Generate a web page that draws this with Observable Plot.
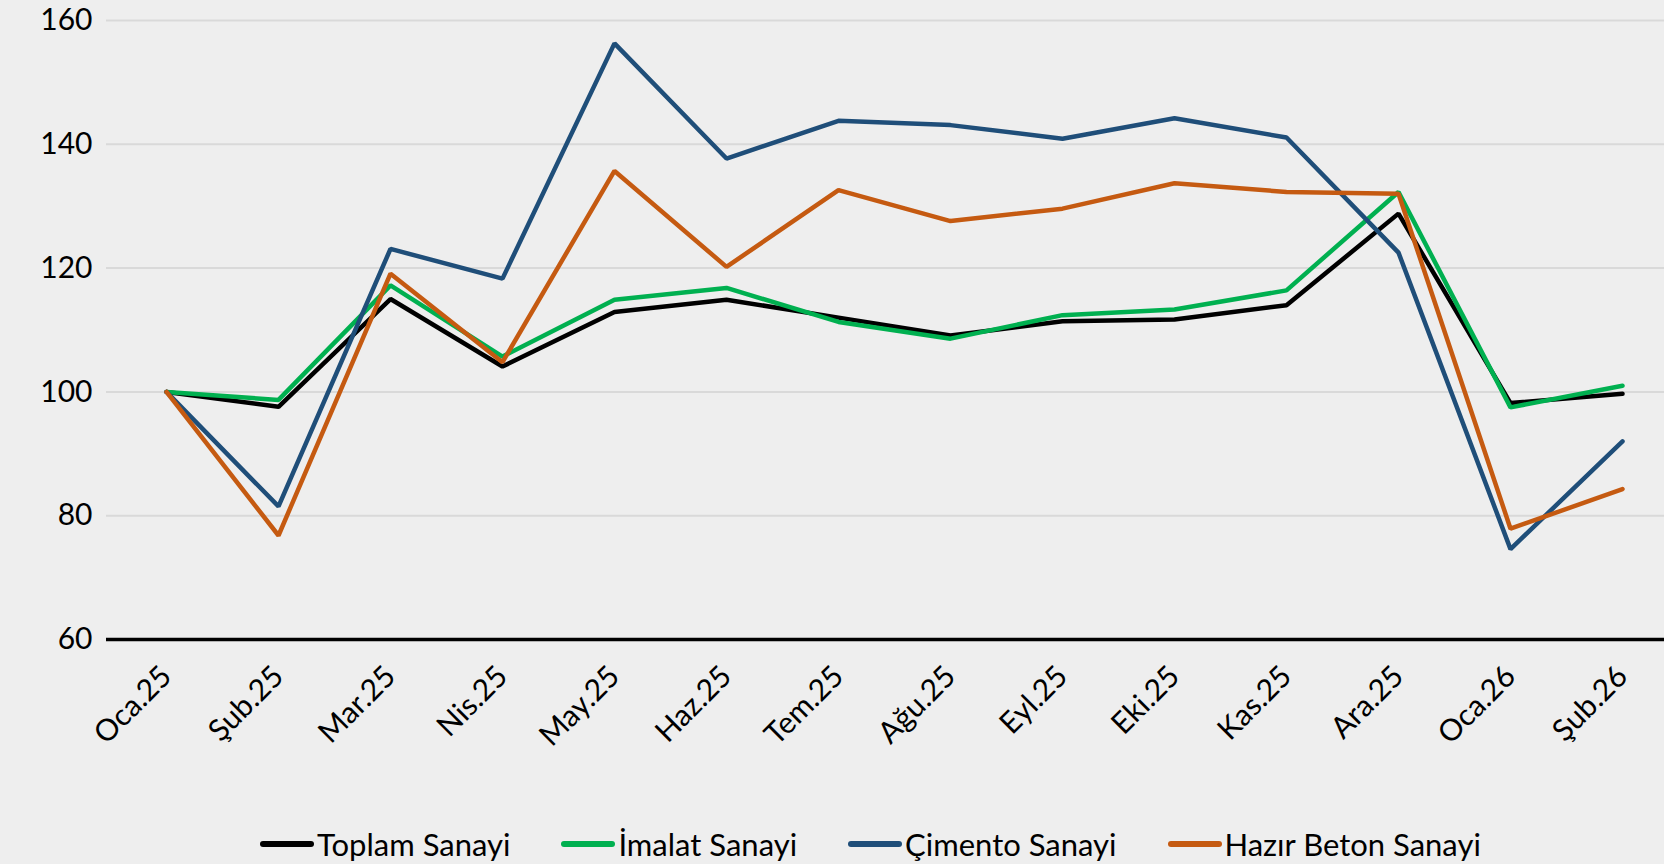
<!DOCTYPE html>
<html>
<head>
<meta charset="utf-8">
<script src="https://cdn.jsdelivr.net/npm/d3@7"></script>
<script src="https://cdn.jsdelivr.net/npm/@observablehq/plot@0.6"></script>
<style>
  html, body { margin: 0; padding: 0; background: #eeeeee; }
  body { width: 1664px; height: 864px; position: relative; overflow: hidden; font-family: Lato, "Open Sans", sans-serif; }
  #legend { position: absolute; top: 824px; left: 0; width: 1664px; box-sizing: border-box; padding-left: 260px;
            display: flex; justify-content: flex-start; gap: 51px; font-size: 31px; line-height: 40px; color: #000; }
  .item { display: flex; align-items: center; white-space: nowrap; }
  .swatch { display: inline-block; width: 54px; height: 6px; border-radius: 3px; margin-right: 3px; }
</style>
</head>
<body>
<div id="chart"></div>
<div id="legend"></div>
<script>
const months = ["Oca.25","Şub.25","Mar.25","Nis.25","May.25","Haz.25","Tem.25","Ağu.25","Eyl.25","Eki.25","Kas.25","Ara.25","Oca.26","Şub.26"];
const toplamSanayi  = [100, 97.6, 115.0, 104.1, 112.9, 114.9, 112.0, 109.1, 111.4, 111.7, 114.0, 128.8, 98.2, 99.7];
const imalatSanayi  = [100, 98.7, 117.2, 105.7, 114.9, 116.8, 111.3, 108.6, 112.4, 113.3, 116.4, 132.3, 97.5, 101.0];
const cimentoSanayi = [100, 81.5, 123.1, 118.3, 156.3, 137.7, 143.8, 143.1, 140.9, 144.2, 141.1, 122.5, 74.6, 92.0];
const hazirBeton    = [100, 76.8, 119.1, 104.8, 135.7, 120.2, 132.6, 127.6, 129.6, 133.7, 132.3, 132.0, 77.9, 84.3];
const seriesNames  = ["Toplam Sanayi", "İmalat Sanayi", "Çimento Sanayi", "Hazır Beton Sanayi"];
const seriesValues = [toplamSanayi, imalatSanayi, cimentoSanayi, hazirBeton];
const seriesColors = ["#000000", "#00b050", "#1f4e79", "#c55a11"];
const yTicks = [60, 80, 100, 120, 140, 160];

const data = seriesNames.flatMap((name, i) =>
  months.map((m, j) => ({ series: name, month: m, value: seriesValues[i][j] })));

const chart = Plot.plot({
  width: 1664,
  height: 770,
  marginLeft: 106,
  marginRight: 0,
  marginTop: 20,
  marginBottom: 131,
  style: { background: "#eeeeee", fontFamily: "Lato, 'Open Sans', sans-serif", fontSize: "30px", color: "#000" },
  x: { type: "point", domain: months, range: [162, 1625], padding: 0 },
  y: { domain: [60, 160] },
  color: { domain: seriesNames, range: seriesColors },
  marks: [
    Plot.gridY(yTicks.filter(t => t > 60), { stroke: "#d9d9d9", strokeOpacity: 1, strokeWidth: 2 }),
    Plot.axisY(yTicks, { tickSize: 0, tickPadding: 14, label: null, fontSize: 30 }),
    Plot.axisX(months, { tickSize: 0, tickPadding: 32, tickRotate: -45, label: null, fontSize: 30 }),
    Plot.ruleY([60], { stroke: "#000", strokeWidth: 3.5 }),
    Plot.line(data, { x: "month", y: "value", z: "series", stroke: "series", strokeWidth: 4.5, strokeLinejoin: "miter" })
  ]
});
document.getElementById("chart").appendChild(chart);

const legend = document.getElementById("legend");
seriesNames.forEach((name, i) => {
  const item = document.createElement("div");
  item.className = "item";
  const sw = document.createElement("span");
  sw.className = "swatch";
  sw.style.background = seriesColors[i];
  const label = document.createElement("span");
  label.textContent = name;
  item.appendChild(sw);
  item.appendChild(label);
  legend.appendChild(item);
});
</script>
</body>
</html>
